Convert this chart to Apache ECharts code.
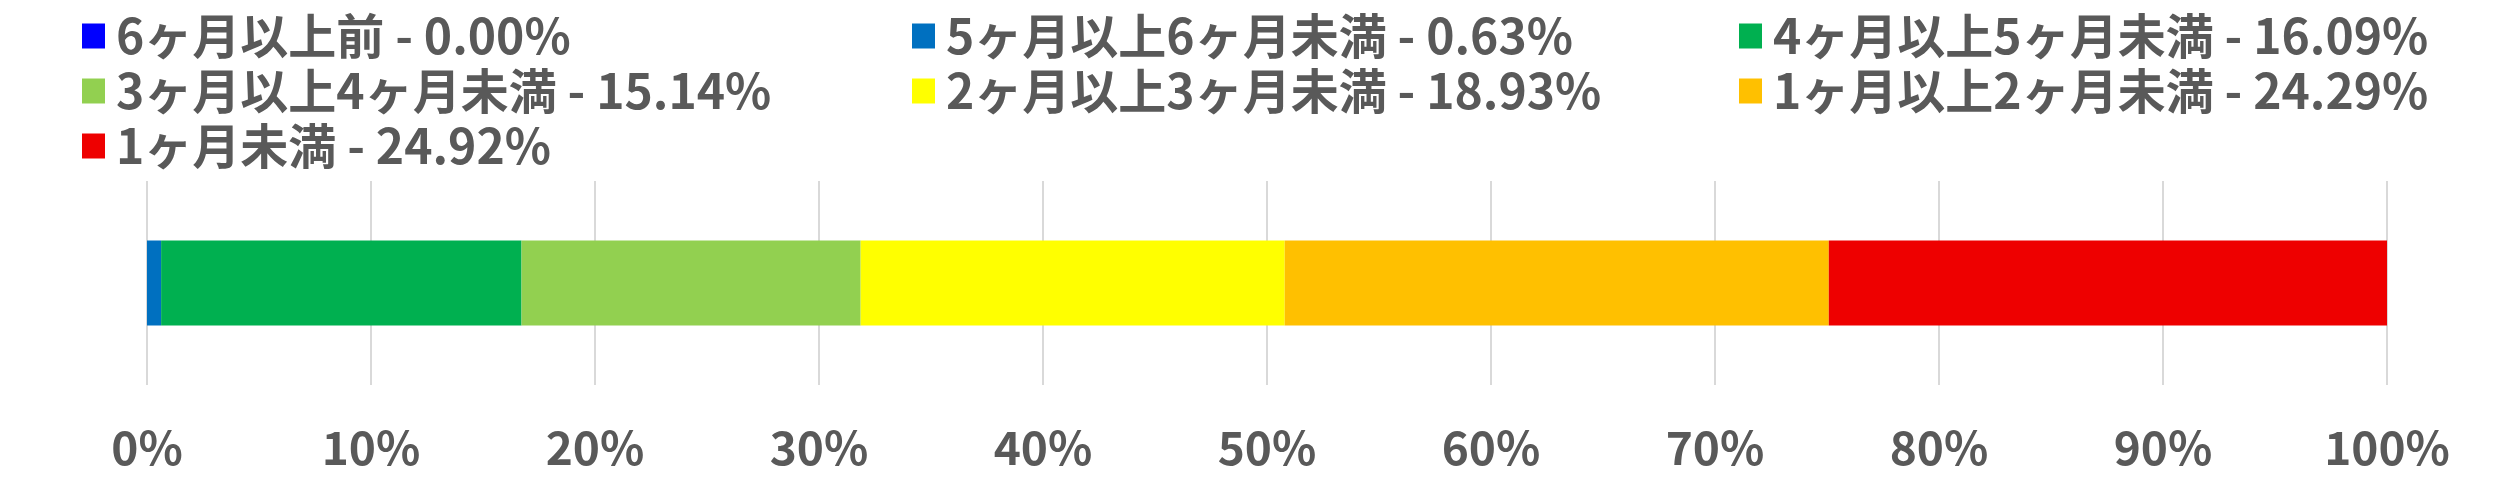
<!DOCTYPE html>
<html><head><meta charset="utf-8">
<script src="https://cdn.jsdelivr.net/npm/echarts@6/dist/echarts.min.js"></script>
<style>html,body{margin:0;padding:0;background:#fff}#c{width:2518px;height:494px}</style>
</head><body><div id="c"></div>
<script>
const seriesNames = ['6ヶ月以上前','5ヶ月以上6ヶ月未満','4ヶ月以上5ヶ月未満','3ヶ月以上4ヶ月未満','2ヶ月以上3ヶ月未満','1ヶ月以上2ヶ月未満','1ヶ月未満'];
const seriesValues = [0.00, 0.63, 16.09, 15.14, 18.93, 24.29, 24.92];
const seriesColors = ['#0000FF','#0070C0','#00B050','#92D050','#FFFF00','#FFC000','#EE0000'];
const categories = [''];
const legendCols = [
  ['6ヶ月以上前','3ヶ月以上4ヶ月未満','1ヶ月未満'],
  ['5ヶ月以上6ヶ月未満','2ヶ月以上3ヶ月未満'],
  ['4ヶ月以上5ヶ月未満','1ヶ月以上2ヶ月未満']
];
const legendLeft = [77, 907, 1734];

const FONT = '"Noto Sans CJK JP", "Noto Sans", sans-serif';
const chart = echarts.init(document.getElementById('c'));
const fmt = name => name + ' - ' + seriesValues[seriesNames.indexOf(name)].toFixed(2) + '%';
chart.setOption({
  animation: false,
  color: seriesColors,
  legend: legendCols.map((col, i) => ({
    data: col,
    orient: 'vertical',
    left: legendLeft[i],
    top: 5,
    itemWidth: 23,
    itemHeight: 25,
    itemGap: 3,
    icon: 'rect',
    selectedMode: false,
    formatter: fmt,
    textStyle: {fontFamily: FONT, fontSize: 48, fontWeight: 'bold', color: '#595959', lineHeight: 52, padding: [0,0,0,6]}
  })),
  grid: {left: 147, right: 2518 - 2387, top: 181, bottom: 494 - 385},
  xAxis: {
    type: 'value', min: 0, max: 100, interval: 10,
    axisLine: {show: false}, axisTick: {show: false},
    splitLine: {lineStyle: {color: '#D9D9D9', width: 2}},
    axisLabel: {formatter: '{value}%', fontFamily: FONT, fontSize: 46, fontWeight: 'bold', color: '#595959', margin: 40}
  },
  yAxis: {
    type: 'category', data: categories,
    axisLine: {show: false}, axisTick: {show: false}, axisLabel: {show: false}
  },
  series: seriesNames.map((n, i) => ({
    name: n, type: 'bar', stack: 'total', barWidth: 85,
    data: [seriesValues[i]],
    itemStyle: {color: seriesColors[i]}
  }))
});
</script></body></html>
